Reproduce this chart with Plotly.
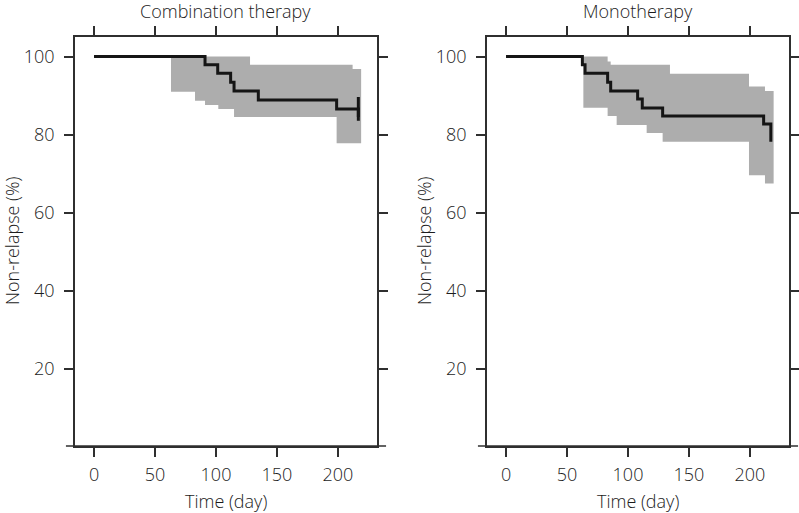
import plotly.graph_objects as go

# ---- data ----
panel_titles = ["Combination therapy", "Monotherapy"]

# Combination therapy: KM curve
combo_time = [0, 91.0, 101.4, 112.0, 114.8, 134.7, 198.9, 216.7]
combo_surv = [100, 97.9, 95.7, 93.4, 91.2, 88.9, 86.6, 84.5]
combo_censor_time = [216.7]
combo_censor_surv = [86.6]
# Combination therapy: confidence band
combo_up_time = [63.1, 127.9, 212.0, 219.0]
combo_up_val = [100, 97.9, 96.8, 96.8]
combo_lo_time = [63.1, 82.8, 91.0, 101.9, 114.8, 198.9, 219.0]
combo_lo_val = [91.0, 88.7, 87.6, 86.6, 84.5, 77.8, 77.8]

# Monotherapy: KM curve
mono_time = [0, 62.6, 64.8, 83.3, 85.8, 107.9, 111.7, 128.4, 211.2, 217.1]
mono_surv = [100, 97.9, 95.7, 93.4, 91.2, 89.1, 86.8, 84.8, 82.7, 78.2]
# Monotherapy: confidence band
mono_up_time = [63.4, 83.3, 85.8, 134.4, 199.2, 212.3, 219.4]
mono_up_val = [100, 98.7, 97.9, 95.6, 92.3, 91.2, 91.2]
mono_lo_time = [63.4, 83.3, 90.7, 115.3, 128.4, 199.2, 212.3, 219.4]
mono_lo_val = [86.9, 84.8, 82.5, 80.4, 78.2, 69.6, 67.5, 67.5]

x_ticks = [0, 50, 100, 150, 200]
y_ticks = [20, 40, 60, 80, 100]
x_title = "Time (day)"
y_title = "Non-relapse (%)"

# ---- styling ----
FONT = "Open Sans"
FS = 18
TXT = "#1c1c1c"
AX = "#2f2f2f"
BAND = "#adadad"
CURVE = "#151515"

fig = go.Figure()

panels = [
    dict(t=combo_time, s=combo_surv, ut=combo_up_time, uv=combo_up_val,
         lt=combo_lo_time, lv=combo_lo_val, ct=combo_censor_time, cs=combo_censor_surv),
    dict(t=mono_time, s=mono_surv, ut=mono_up_time, uv=mono_up_val,
         lt=mono_lo_time, lv=mono_lo_val, ct=[], cs=[]),
]

W, H = 799, 513
x_domains = [[75 / W, 377 / W], [487 / W, 789 / W]]
y_domain = [(H - 446) / H, (H - 37) / H]

for i, p in enumerate(panels):
    xa = "x" if i == 0 else "x2"
    ya = "y" if i == 0 else "y2"
    fig.add_trace(go.Scatter(x=p["ut"], y=p["uv"], mode="lines", line=dict(width=0, shape="hv"),
                             xaxis=xa, yaxis=ya, showlegend=False, hoverinfo="skip"))
    fig.add_trace(go.Scatter(x=p["lt"], y=p["lv"], mode="lines", line=dict(width=0, shape="hv"),
                             fill="tonexty", fillcolor=BAND,
                             xaxis=xa, yaxis=ya, showlegend=False, hoverinfo="skip"))
    fig.add_trace(go.Scatter(x=p["t"], y=p["s"], mode="lines", line=dict(color=CURVE, width=3, shape="hv"),
                             xaxis=xa, yaxis=ya, showlegend=False))
    if p["ct"]:
        fig.add_trace(go.Scatter(x=p["ct"], y=p["cs"], mode="markers",
                                 marker=dict(symbol="line-ns", size=17, line=dict(color=CURVE, width=3)),
                                 xaxis=xa, yaxis=ya, showlegend=False))

axis_common = dict(showline=True, linecolor=AX, linewidth=1.5, mirror="allticks",
                   ticks="outside", ticklen=9, tickwidth=1.5, tickcolor=AX,
                   showgrid=False, zeroline=False,
                   tickfont=dict(family=FONT, size=FS, color=TXT, weight=300), automargin=False)

for i in range(2):
    sfx = "" if i == 0 else "2"
    fig.layout["xaxis" + sfx] = dict(axis_common, domain=x_domains[i], range=[-15.6, 232],
                                     tickvals=x_ticks, anchor="y" + sfx, ticklabelstandoff=3)
    fig.layout["yaxis" + sfx] = dict(axis_common, domain=y_domain, range=[0.3, 105],
                                     tickvals=y_ticks, anchor="x" + sfx, ticklabelstandoff=6)
    # extended bottom axis line
    fig.add_shape(type="line", xref=("x" + sfx + " domain"), yref=("y" + sfx + " domain"),
                  x0=-0.03, x1=1.03, y0=0, y1=0, line=dict(color=AX, width=1.5))
    xc = (x_domains[i][0] + x_domains[i][1]) / 2
    fig.add_annotation(text=panel_titles[i], x=xc, y=1 - 11 / H, xref="paper", yref="paper",
                       showarrow=False, xanchor="center", yanchor="middle",
                       font=dict(family=FONT, size=FS, color=TXT, weight=300))
    fig.add_annotation(text=x_title, x=xc, y=1 - 501 / H, xref="paper", yref="paper",
                       showarrow=False, xanchor="center", yanchor="middle",
                       font=dict(family=FONT, size=FS, color=TXT, weight=300))
    fig.add_annotation(text=y_title, x=(12 if i == 0 else 424) / W, y=1 - 241 / H,
                       xref="paper", yref="paper", textangle=-90,
                       showarrow=False, xanchor="center", yanchor="middle",
                       font=dict(family=FONT, size=FS, color=TXT, weight=300))

fig.update_layout(width=W, height=H, margin=dict(l=0, r=0, t=0, b=0),
                  paper_bgcolor="white", plot_bgcolor="white", showlegend=False)

fig.write_html("out.html", config={"displayModeBar": False},
               post_script="document.body.style.margin='0px';document.body.style.overflow='hidden';")
